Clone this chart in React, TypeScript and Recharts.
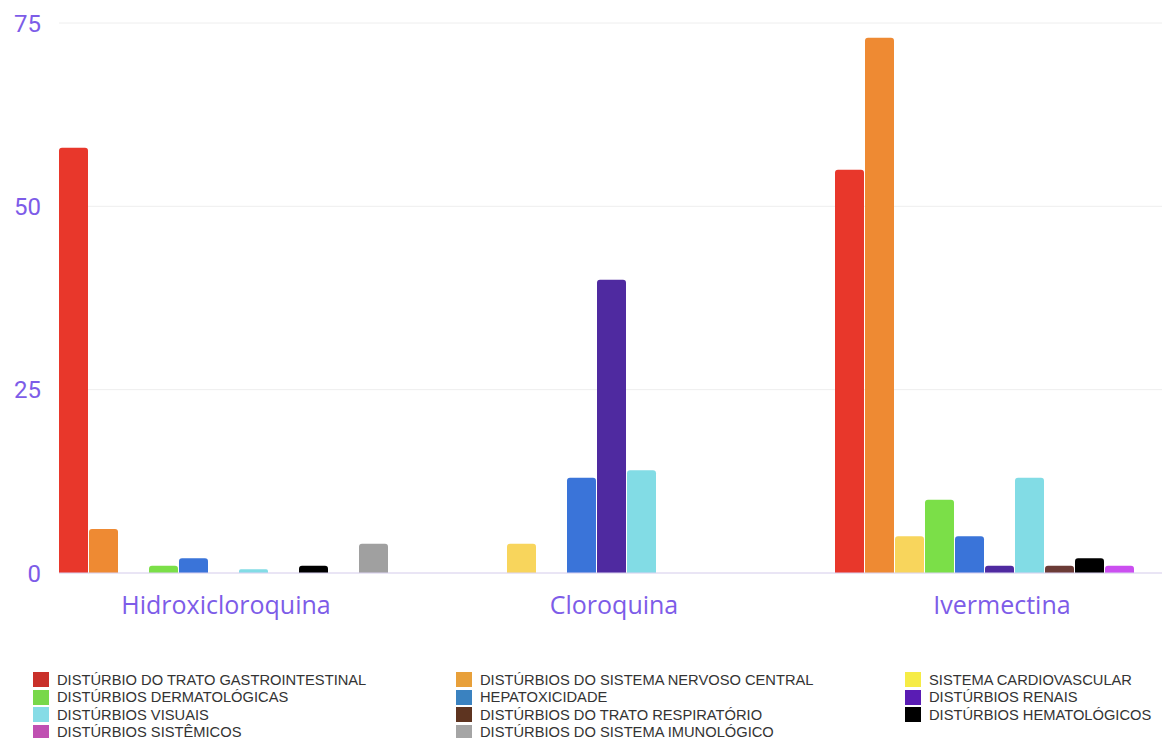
import React from "react";
import { BarChart, Bar, XAxis, YAxis, CartesianGrid, Legend } from "recharts";

const categories = ["Hidroxicloroquina", "Cloroquina", "Ivermectina"];

const seriesNames = [
  "DISTÚRBIO DO TRATO GASTROINTESTINAL",
  "DISTÚRBIOS DO SISTEMA NERVOSO CENTRAL",
  "SISTEMA CARDIOVASCULAR",
  "DISTÚRBIOS DERMATOLÓGICAS",
  "HEPATOXICIDADE",
  "DISTÚRBIOS RENAIS",
  "DISTÚRBIOS VISUAIS",
  "DISTÚRBIOS DO TRATO RESPIRATÓRIO",
  "DISTÚRBIOS HEMATOLÓGICOS",
  "DISTÚRBIOS SISTÊMICOS",
  "DISTÚRBIOS DO SISTEMA IMUNOLÓGICO",
];

const gastro = [58, 0, 55];
const nervoso = [6, 0, 73];
const cardio = [0, 4, 5];
const dermato = [1, 0, 10];
const hepato = [2, 13, 5];
const renais = [0, 40, 1];
const visuais = [0.5, 14, 13];
const respiratorio = [0, 0, 1];
const hemato = [1, 0, 2];
const sistemicos = [0, 0, 1];
const imuno = [4, 0, 0];

const seriesValues = [gastro, nervoso, cardio, dermato, hepato, renais, visuais, respiratorio, hemato, sistemicos, imuno];

const yTicks = [0, 25, 50, 75];

const barColors = [
  "#E8372B", "#EE8A33", "#F8D55C", "#7BDF48", "#3A74D9", "#4F2AA0",
  "#82DCE5", "#6B3B36", "#000000", "#CB4FF0", "#A0A0A0",
];
const legendColors = [
  "#C9302A", "#E8A03A", "#F6EC45", "#78D84A", "#3A82C0", "#5A1CB4",
  "#86DCE6", "#5E3420", "#000000", "#C050B2", "#A5A5A5",
];

const data = categories.map((name, i) => {
  const row: Record<string, string | number> = { name };
  seriesNames.forEach((s, k) => {
    row["s" + k] = seriesValues[k][i];
  });
  return row;
});

const colLefts = [33, 456, 905];

const LegendContent = () => (
  <div style={{ position: "relative", width: 1162, height: 70 }}>
    {seriesNames.map((n, k) => {
      const col = k % 3;
      const row = Math.floor(k / 3);
      return (
        <div
          key={n}
          style={{
            position: "absolute",
            left: colLefts[col],
            top: 3 + row * 17.5,
            display: "flex",
            alignItems: "center",
            height: 17,
            fontFamily: "'Liberation Sans', Arial, sans-serif",
            fontSize: 14.7,
            color: "#333",
            whiteSpace: "nowrap",
          }}
        >
          <span style={{ display: "inline-block", width: 16, height: 15, background: legendColors[k], marginRight: 8 }} />
          {n}
        </div>
      );
    })}
  </div>
);

export default function App() {
  return (
    <div style={{ position: "absolute", left: 0, top: 0, width: 1162, height: 738, background: "#fff" }}>
      <BarChart
        width={1162}
        height={738}
        data={data}
        margin={{ top: 23, right: 0, left: 0, bottom: 0 }}
        barCategoryGap={27}
        barGap={1}
      >
        <CartesianGrid vertical={false} stroke="#eeeeee" />
        <XAxis
          dataKey="name"
          height={95}
          padding={{ left: -27, right: -34 }}
          axisLine={{ stroke: "#dcd3f3" }}
          tickLine={false}
          tickMargin={17}
          tick={{ fill: "#7D5CE8", fontSize: 25, fontFamily: "'Open Sans', sans-serif", fontWeight: 500 }}
        />
        <YAxis
          width={59}
          domain={[0, 75]}
          ticks={yTicks}
          axisLine={false}
          tickLine={false}
          tickMargin={12}
          tick={{ fill: "#7D5CE8", fontSize: 24, fontFamily: "Roboto, sans-serif" }}
        />
        <Legend verticalAlign="bottom" content={<LegendContent />} />
        {seriesNames.map((n, k) => (
          <Bar
            key={n}
            dataKey={"s" + k}
            name={n}
            fill={barColors[k]}
            radius={[3, 3, 0, 0]}
            isAnimationActive={false}
          />
        ))}
      </BarChart>
    </div>
  );
}
